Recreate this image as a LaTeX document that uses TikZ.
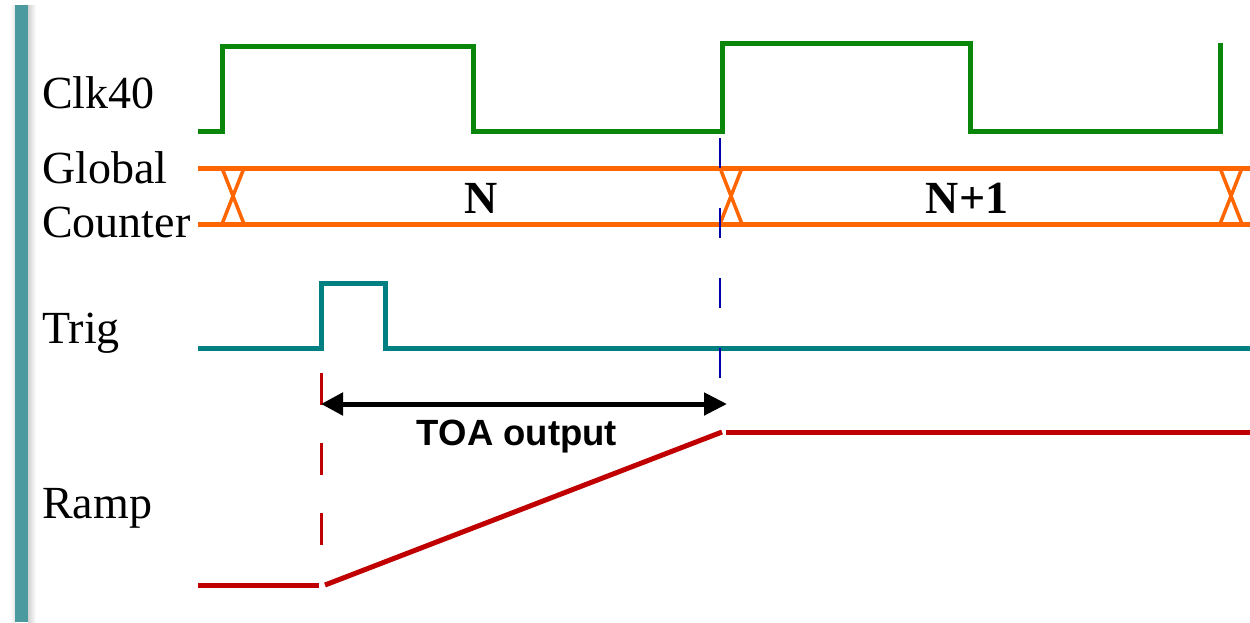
\documentclass[tikz,border=0pt]{standalone}
\usepackage{fontspec}
\setmainfont{Liberation Serif}
\newfontfamily\arialfont{Liberation Sans}
\usetikzlibrary{arrows.meta}
\definecolor{clkgreen}{RGB}{10,135,10}
\definecolor{cntorange}{RGB}{255,102,0}
\definecolor{trigteal}{RGB}{0,128,128}
\definecolor{rampred}{RGB}{192,0,0}
\definecolor{markblue}{RGB}{0,0,170}
\definecolor{barteal}{RGB}{74,154,160}
\tikzset{
  lbl/.style={anchor=base west, inner sep=0pt, font=\fontsize{46}{46}\selectfont},
  vallbl/.style={anchor=base, inner sep=0pt, font=\fontsize{46}{46}\selectfont\bfseries},
  wave/.style={line width=5pt},
  xcross/.style={cntorange, line width=3.5pt},
  guide/.style={line width=3pt}
}
\begin{document}
\begin{tikzpicture}[x=1pt,y=-1pt]
\useasboundingbox (0,0) rectangle (1250,622);
\fill[white] (0,0) rectangle (1250,622);
% left bar with soft shadow
\shade[left color=black!18, right color=white] (28,5) rectangle (36,622);
\shade[left color=white, right color=black!10] (10,5) rectangle (15,622);
\fill[barteal] (15,5) rectangle (28,622);

% labels
\node[lbl] (clk) at (42,108) {Clk40};
\node[lbl] (glob) at (42,183) {Global};
\node[lbl] (cnt) at (42,237) {Counter};
\node[lbl] (trig) at (42,343) {Trig};
\node[lbl] (ramp) at (42,518) {Ramp};

% Clk40
\draw[wave, clkgreen] (198,131) -- (222,131) -- (222,46) -- (473,46) -- (473,131)
  -- (722,131) -- (722,43) -- (970,43) -- (970,131) -- (1220,131) -- (1220,43);

% Global counter
\draw[wave, cntorange] (198,168) -- (1250,168);
\draw[wave, cntorange] (198,224) -- (1250,224);
\foreach \x in {222,720,1220}{
  \draw[xcross] (\x,168) -- (\x+22,224);
  \draw[xcross] (\x+22,168) -- (\x,224);
}
\node[vallbl] (n) at (481,213) {N};
\node[vallbl] (n1) at (967,213) {N+1};

% Trig
\draw[wave, trigteal] (198,348) -- (321,348) -- (321,283) -- (385,283) -- (385,348) -- (1250,348);

% marker lines
\draw[guide, markblue, line width=2.5pt, dash pattern=on 30pt off 40pt] (720,138) -- (720,380);
\draw[guide, rampred, dash pattern=on 32pt off 38pt] (321,373) -- (321,547);

% TOA arrow
\coordinate (toaL) at (321,404);
\coordinate (toaR) at (727,404);
\draw[line width=5pt, {Triangle[length=22pt,width=22pt]}-{Triangle[length=23pt,width=22pt]}] (toaL) -- (toaR);
\node[anchor=base, inner sep=0pt, font=\arialfont\bfseries\fontsize{36.5}{36.5}\selectfont] (toa) at (517,445) {TOA output};

% Ramp
\draw[wave, rampred] (198,585) -- (319,585);
\draw[wave, rampred] (325,585) -- (722,432);
\draw[wave, rampred] (726,432) -- (1250,432);
\end{tikzpicture}
\end{document}
